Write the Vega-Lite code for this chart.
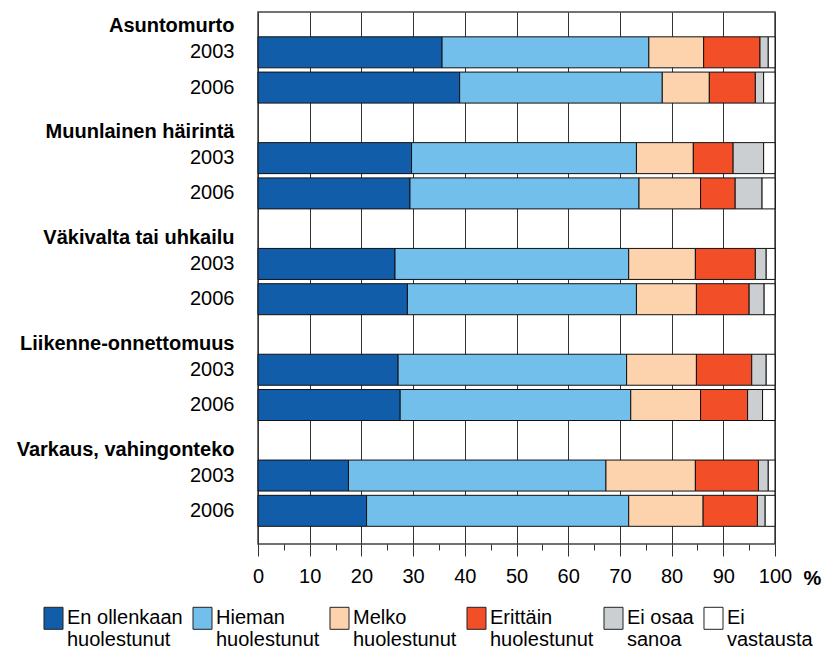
{
  "$schema": "https://vega.github.io/schema/vega-lite/v6.json",
  "width": 517,
  "height": 532,
  "autosize": "none",
  "padding": {"left": 258, "top": 12, "right": 56, "bottom": 108},
  "config": {
    "font": "Liberation Sans",
    "view": {"stroke": "#444", "strokeWidth": 1.5},
    "axis": {"labelFont": "Liberation Sans", "labelColor": "#000", "labelFontSize": 20}
  },
  "data": {
    "values": [
      {"row": "Asuntomurto 2003", "En ollenkaan huolestunut": 35.6, "Hieman huolestunut": 40.0, "Melko huolestunut": 10.6, "Erittäin huolestunut": 10.9, "Ei osaa sanoa": 1.6, "Ei vastausta": 1.3},
      {"row": "Asuntomurto 2006", "En ollenkaan huolestunut": 39.0, "Hieman huolestunut": 39.2, "Melko huolestunut": 9.1, "Erittäin huolestunut": 8.9, "Ei osaa sanoa": 1.6, "Ei vastausta": 2.2},
      {"row": "Muunlainen häirintä 2003", "En ollenkaan huolestunut": 29.7, "Hieman huolestunut": 43.5, "Melko huolestunut": 11.0, "Erittäin huolestunut": 7.7, "Ei osaa sanoa": 5.9, "Ei vastausta": 2.2},
      {"row": "Muunlainen häirintä 2006", "En ollenkaan huolestunut": 29.4, "Hieman huolestunut": 44.3, "Melko huolestunut": 11.9, "Erittäin huolestunut": 6.7, "Ei osaa sanoa": 5.2, "Ei vastausta": 2.5},
      {"row": "Väkivalta tai uhkailu 2003", "En ollenkaan huolestunut": 26.5, "Hieman huolestunut": 45.2, "Melko huolestunut": 12.9, "Erittäin huolestunut": 11.6, "Ei osaa sanoa": 2.1, "Ei vastausta": 1.7},
      {"row": "Väkivalta tai uhkailu 2006", "En ollenkaan huolestunut": 28.9, "Hieman huolestunut": 44.3, "Melko huolestunut": 11.6, "Erittäin huolestunut": 10.2, "Ei osaa sanoa": 2.9, "Ei vastausta": 2.1},
      {"row": "Liikenne-onnettomuus 2003", "En ollenkaan huolestunut": 27.1, "Hieman huolestunut": 44.2, "Melko huolestunut": 13.5, "Erittäin huolestunut": 10.7, "Ei osaa sanoa": 2.8, "Ei vastausta": 1.7},
      {"row": "Liikenne-onnettomuus 2006", "En ollenkaan huolestunut": 27.5, "Hieman huolestunut": 44.6, "Melko huolestunut": 13.5, "Erittäin huolestunut": 9.1, "Ei osaa sanoa": 2.9, "Ei vastausta": 2.4},
      {"row": "Varkaus, vahingonteko 2003", "En ollenkaan huolestunut": 17.5, "Hieman huolestunut": 49.8, "Melko huolestunut": 17.3, "Erittäin huolestunut": 12.2, "Ei osaa sanoa": 1.9, "Ei vastausta": 1.3},
      {"row": "Varkaus, vahingonteko 2006", "En ollenkaan huolestunut": 21.0, "Hieman huolestunut": 50.7, "Melko huolestunut": 14.4, "Erittäin huolestunut": 10.5, "Ei osaa sanoa": 1.5, "Ei vastausta": 1.9}
    ]
  },
  "transform": [
    {"fold": ["En ollenkaan huolestunut", "Hieman huolestunut", "Melko huolestunut", "Erittäin huolestunut", "Ei osaa sanoa", "Ei vastausta"], "as": ["cat", "v"]},
    {"calculate": "indexof(['En ollenkaan huolestunut','Hieman huolestunut','Melko huolestunut','Erittäin huolestunut','Ei osaa sanoa','Ei vastausta'], datum.cat)", "as": "o"}
  ],
  "layer": [
    {
      "mark": {"type": "bar", "stroke": "#111", "strokeWidth": 1},
      "encoding": {
        "y": {
          "field": "row", "type": "nominal",
          "scale": {
            "domain": ["Asuntomurto 2003", "Asuntomurto 2006", "g1", "Muunlainen häirintä 2003", "Muunlainen häirintä 2006", "g2", "Väkivalta tai uhkailu 2003", "Väkivalta tai uhkailu 2006", "g3", "Liikenne-onnettomuus 2003", "Liikenne-onnettomuus 2006", "g4", "Varkaus, vahingonteko 2003", "Varkaus, vahingonteko 2006"],
            "paddingInner": 0.121, "paddingOuter": 0.6025, "align": 0.584
          },
          "axis": {
            "orient": "left", "title": null, "ticks": false, "domain": false, "grid": false,
            "labelPadding": 24, "labelLimit": 300, "labelBaseline": "middle",
            "labelExpr": "length(datum.value) > 4 ? slice(datum.value, -4) : ''"
          }
        },
        "x": {
          "field": "v", "type": "quantitative", "stack": "zero",
          "scale": {"domain": [0, 100], "nice": false},
          "axis": {
            "values": [0, 5, 10, 15, 20, 25, 30, 35, 40, 45, 50, 55, 60, 65, 70, 75, 80, 85, 90, 95, 100],
            "labelExpr": "datum.value % 10 === 0 ? datum.label : ''",
            "labelFlush": false, "labelOverlap": false, "labelPadding": 10,
            "domain": false,
            "grid": true, "gridColor": "#333", "gridWidth": 1,
            "gridOpacity": {"condition": {"test": "datum.value % 10 !== 0", "value": 0}, "value": 1},
            "tickColor": "#333", "tickWidth": 1,
            "tickSize": {"condition": {"test": "datum.value % 10 !== 0", "value": 6}, "value": 12},
            "title": "%", "titleX": 545, "titleY": 34, "titleAlign": "left", "titleBaseline": "middle",
            "titleFontSize": 20, "titleFontWeight": "bold", "titleColor": "#000", "titleFont": "Liberation Sans"
          }
        },
        "color": {
          "field": "cat", "type": "nominal",
          "sort": ["En ollenkaan huolestunut", "Hieman huolestunut", "Melko huolestunut", "Erittäin huolestunut", "Ei osaa sanoa", "Ei vastausta"],
          "scale": {
            "domain": ["En ollenkaan huolestunut", "Hieman huolestunut", "Melko huolestunut", "Erittäin huolestunut", "Ei osaa sanoa", "Ei vastausta"],
            "range": ["#115DAA", "#71BFEA", "#FDD3AE", "#F24F28", "#CCCFD2", "#FFFFFF"]
          },
          "legend": {
            "orient": "none", "legendX": -216, "legendY": 594, "direction": "horizontal", "columns": 6,
            "title": null, "padding": 0,
            "symbolType": "M-0.864,-0.95H0.864V1.05H-0.864Z", "symbolSize": 484,
            "symbolStrokeColor": "#222", "symbolStrokeWidth": 1, "symbolOpacity": 1,
            "labelFont": "Liberation Sans", "labelFontSize": 20, "labelColor": "#000", "labelLimit": 300,
            "labelOffset": 2, "columnPadding": 7,
            "labelExpr": "[slice(datum.label, 0, lastindexof(datum.label, ' ')), slice(datum.label, lastindexof(datum.label, ' ') + 1)]"
          }
        },
        "order": {"field": "o", "type": "quantitative", "sort": "ascending"}
      }
    },
    {
      "mark": {"type": "text"},
      "encoding": {
        "y": {
          "field": "row", "type": "nominal",
          "scale": {
            "domain": ["Asuntomurto 2003", "Asuntomurto 2006", "g1", "Muunlainen häirintä 2003", "Muunlainen häirintä 2006", "g2", "Väkivalta tai uhkailu 2003", "Väkivalta tai uhkailu 2006", "g3", "Liikenne-onnettomuus 2003", "Liikenne-onnettomuus 2006", "g4", "Varkaus, vahingonteko 2003", "Varkaus, vahingonteko 2006"],
            "paddingInner": 0.121, "paddingOuter": 0.6025, "align": 0.584
          },
          "axis": {
            "orient": "left", "title": null, "ticks": false, "domain": false, "grid": false,
            "labelPadding": 24, "labelLimit": 300, "labelBaseline": "middle",
            "labelFontWeight": "bold", "labelOffset": -26,
            "labelExpr": "indexof(datum.value, '2003') > 0 ? slice(datum.value, 0, -5) : ''"
          }
        },
        "text": {"value": ""}
      }
    }
  ],
  "resolve": {"axis": {"y": "independent"}}
}
